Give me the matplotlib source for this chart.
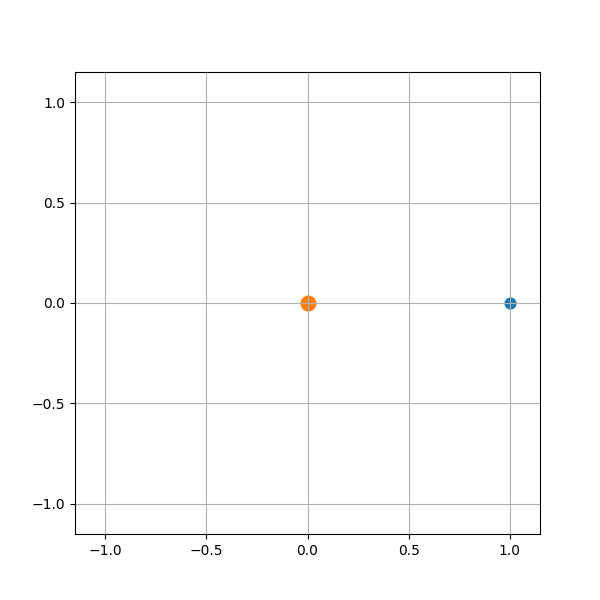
import numpy as np
import matplotlib
matplotlib.use('Agg')
import matplotlib.pyplot as plt

# points: blue body and orange body
blue_x = [1.0]
blue_y = [0.0]
orange_x = [0.0]
orange_y = [0.0]

fig, ax = plt.subplots(figsize=(6, 6), dpi=100)
ax.scatter(blue_x, blue_y, s=60, color='tab:blue')
ax.scatter(orange_x, orange_y, s=110, color='tab:orange')
ax.set_xlim(-1.15, 1.15)
ax.set_ylim(-1.15, 1.15)
ax.grid(True)
fig.savefig('out.png')
